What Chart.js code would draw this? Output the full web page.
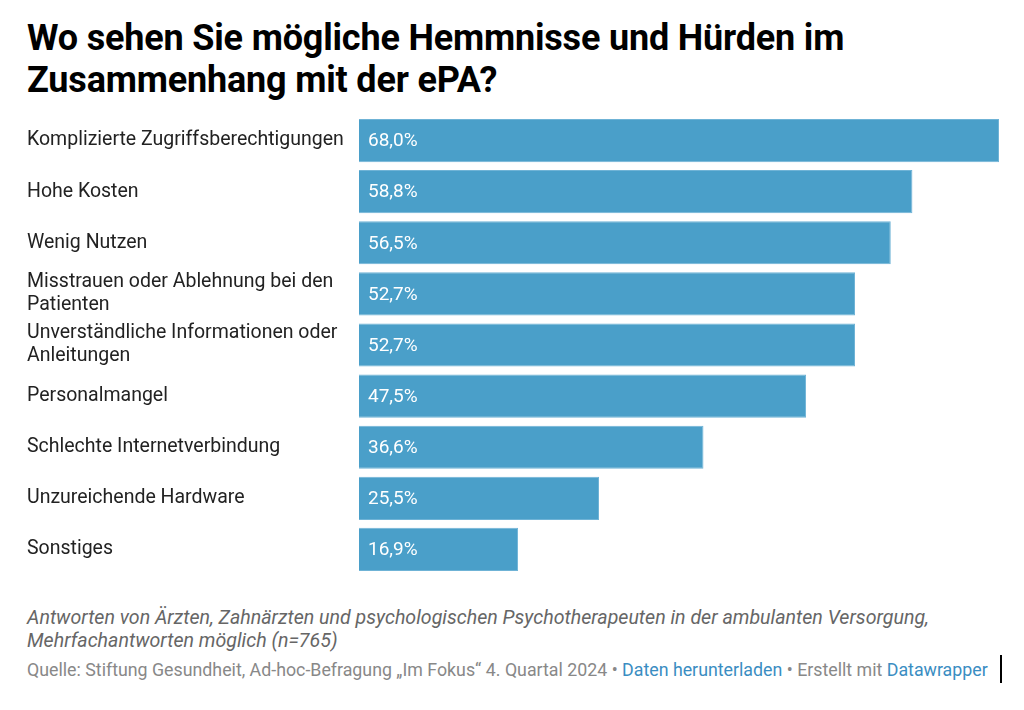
<!DOCTYPE html>
<html><head><meta charset="utf-8">
<script src="https://cdn.jsdelivr.net/npm/chart.js@4"></script>
<style>
html,body{margin:0;padding:0;background:#fff;width:1024px;height:710px;overflow:hidden;font-family:Roboto,"Noto Sans",sans-serif;}
#title{position:absolute;left:27px;top:17px;font-size:36px;font-weight:700;line-height:42px;color:#000;letter-spacing:-0.18px;white-space:nowrap;}
#wrap{position:absolute;left:0;top:110px;width:1024px;height:470px;}
#note{position:absolute;left:27px;top:606px;font-size:19.6px;font-style:italic;line-height:23px;color:#666;white-space:nowrap;}
#src{position:absolute;left:27px;top:659px;font-size:17.8px;line-height:22px;color:#888;white-space:nowrap;}
#src a{color:#3a8dc2;text-decoration:none;}
#cursor{position:absolute;left:1000px;top:655px;width:2px;height:28px;background:#000;}
</style></head>
<body>
<div id="title">Wo sehen Sie mögliche Hemmnisse und Hürden im<br>Zusammenhang mit der ePA?</div>
<div id="wrap"><canvas id="c"></canvas></div>
<div id="note">Antworten von Ärzten, Zahnärzten und psychologischen Psychotherapeuten in der ambulanten Versorgung,<br>Mehrfachantworten möglich (n=765)</div>
<div id="src">Quelle: Stiftung Gesundheit, Ad-hoc-Befragung „Im Fokus“ 4. Quartal 2024 • <a>Daten herunterladen</a> • Erstellt mit <a>Datawrapper</a></div>
<div id="cursor"></div>
<script>
const categories = [
  ["Komplizierte Zugriffsberechtigungen"],
  ["Hohe Kosten"],
  ["Wenig Nutzen"],
  ["Misstrauen oder Ablehnung bei den", "Patienten"],
  ["Unverständliche Informationen oder", "Anleitungen"],
  ["Personalmangel"],
  ["Schlechte Internetverbindung"],
  ["Unzureichende Hardware"],
  ["Sonstiges"]
];
const values = [68.0, 58.8, 56.5, 52.7, 52.7, 47.5, 36.6, 25.5, 16.9];
const barColor = "#4a9fc9";

const valueLabels = {
  id: "valueLabels",
  afterDatasetsDraw(chart) {
    const ctx = chart.ctx;
    const meta = chart.getDatasetMeta(0);
    ctx.save();
    ctx.font = "19px Roboto, sans-serif";
    ctx.fillStyle = "#fff";
    ctx.textBaseline = "middle";
    ctx.textAlign = "left";
    meta.data.forEach((bar, i) => {
      const txt = values[i].toFixed(1).replace(".", ",") + "%";
      ctx.fillText(txt, bar.base + 9, bar.y + 1);
    });
    ctx.restore();
  }
};

new Chart(document.getElementById("c"), {
  type: "bar",
  data: {
    labels: categories,
    datasets: [{
      data: values,
      backgroundColor: barColor,
      borderColor: "#6fb3d6",
      borderWidth: 1,
      categoryPercentage: 1,
      barPercentage: 0.845
    }]
  },
  options: {
    indexAxis: "y",
    responsive: true,
    maintainAspectRatio: false,
    animation: false,
    layout: { padding: { left: 27, right: 25, top: 5, bottom: 5 } },
    plugins: { legend: { display: false }, tooltip: { enabled: false } },
    scales: {
      x: { display: false, min: 0, max: 68 },
      y: {
        grid: { display: false, drawTicks: false },
        border: { display: false },
        afterFit(scale) { scale.width = 332; scale.paddingTop = 0; scale.paddingBottom = 0; },
        ticks: {
          crossAlign: "far",
          padding: 0,
          color: "#222",
          font: { family: "Roboto, sans-serif", size: 19.5, lineHeight: 1.18 }
        }
      }
    }
  },
  plugins: [valueLabels]
});
</script>
</body></html>
